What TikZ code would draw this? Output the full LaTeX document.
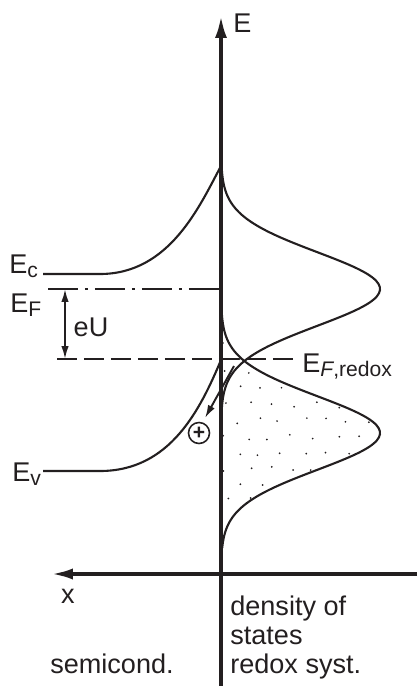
\documentclass[tikz,border=0pt]{standalone}
\usepackage{fontspec}
\setmainfont{Liberation Sans}
\usepackage{tikz}
\usetikzlibrary{arrows.meta,positioning}
\definecolor{inkcol}{HTML}{231F20}
\newcommand{\bsub}[1]{\raisebox{-2.8pt}{\fontsize{12}{12}\selectfont#1}}

\begin{document}
\begin{tikzpicture}[x=0.02cm,y=-0.02cm,>={Latex[length=0.26cm,width=0.15cm]},
  axis/.style={inkcol,line width=2.3pt},
  band/.style={inkcol,line width=1.2pt},
  lvl/.style={inkcol,line width=1.1pt},
  lbl/.style={inkcol,inner sep=0pt,font=\fontsize{15.4}{17}\selectfont}]
  \useasboundingbox (0,0) rectangle (417,686);
  % axes
  \coordinate (O) at (221,574);
  \coordinate (Etop) at (221,15);
  \coordinate (Ebot) at (221,686);
  \coordinate (xtip) at (50,574);
  \coordinate (xend) at (417,574);
  \draw[axis,-{Latex[length=0.46cm,width=0.24cm]}] (Ebot) -- (Etop);
  \draw[axis,-{Latex[length=0.46cm,width=0.22cm]}] (xend) -- (xtip);
  \node[lbl,anchor=west] (Elab) at (233,23) {E};
  \node[lbl] (xlab) at (68,596) {x};
  % dots in the occupied redox states
  \begin{scope}
    \clip (221,305) -- plot[domain=305:548,samples=80,smooth] ({221+159*exp(-((\x-433)/52)*((\x-433)/52))},{\x}) -- cycle;
    \pgfmathsetseed{11}
    \foreach \r in {0,...,15}
      \foreach \c in {0,...,8} {
        \pgfmathsetmacro{\dx}{226+22*\c+11*mod(\r,2)+4*rand}
        \pgfmathsetmacro{\dy}{309+16*\r+3*rand}
        \fill[inkcol] (\dx,\dy) circle (0.55pt);
      }
  \end{scope}
  % density of states, ox and red
  \draw[band] plot[domain=165:412,samples=80,smooth] ({221+159*exp(-((\x-289)/52)*((\x-289)/52))},{\x});
  \draw[band] plot[domain=305:548,samples=80,smooth] ({221+159*exp(-((\x-433)/52)*((\x-433)/52))},{\x});
  % band edges
  \coordinate (cusp) at (221,166);
  \coordinate (vtop) at (221,360);
  \draw[band] (43,274) coordinate (Ecl) -- (100,274) .. controls (170,274) and (200,205) .. (cusp);
  \draw[band] (43,471) coordinate (Evl) -- (100,471) .. controls (170,471) and (200,410) .. (vtop);
  % Fermi levels
  \coordinate (EFl) at (48,289);
  \coordinate (EFr) at (221,289);
  \coordinate (ERl) at (57,359);
  \coordinate (ERr) at (298,359);
  \draw[lvl,dash pattern=on 0.6cm off 0.14cm on 0.06cm off 0.14cm] (EFl) -- (EFr);
  \draw[lvl,dash pattern=on 0.4cm off 0.14cm] (ERl) -- (ERr);
  \coordinate (eUt) at (65,289);
  \coordinate (eUb) at (65,359);
  \draw[lvl,<->] (eUt) -- (eUb);
  \node[lbl] (eU) at (91,327) {eU};
  % hole transfer
  \coordinate (trs) at (234,366);
  \coordinate (tre) at (205,418);
  \draw[lvl,->] (trs) -- (tre);
  \node[inkcol,circle,draw,line width=0.9pt,minimum size=0.42cm,inner sep=0pt,font=\fontsize{12}{12}\selectfont\bfseries] (hole) at (199,433) {+};
  % labels
  \node[lbl,anchor=base west] (Ec) at (9,273) {E\bsub{c}};
  \node[lbl,anchor=base west] (EF) at (10,312) {E\bsub{F}};
  \node[lbl,anchor=base west] (Ev) at (12,481) {E\bsub{v}};
  \node[lbl,anchor=base west] (ER) at (302,372) {E\bsub{\textit{F},redox}};
  \node[lbl,anchor=base west] (dos1) at (230,615) {density of};
  \node[lbl,anchor=base west] (dos2) at (230,644) {states};
  \node[lbl,anchor=base west] (dos3) at (230,673) {redox syst.};
  \node[lbl,anchor=base west] (sc) at (50,673) {semicond.};
\end{tikzpicture}
\end{document}
